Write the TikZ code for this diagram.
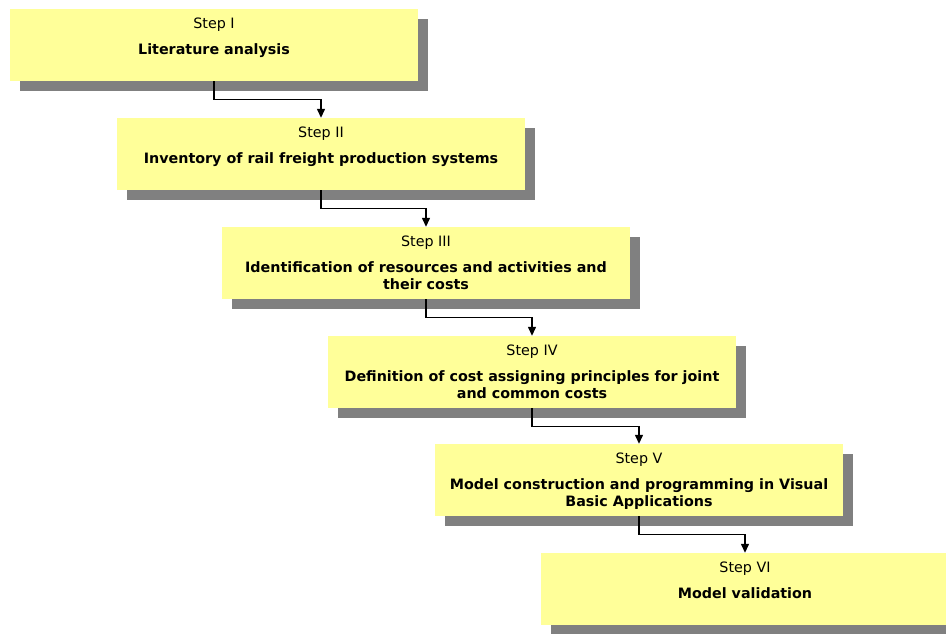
\documentclass[tikz,border=0pt]{standalone}
\usepackage{fontspec}
\setmainfont{DejaVu Sans}
\usetikzlibrary{arrows.meta,shadows}

\definecolor{stepyellow}{HTML}{FFFF99}
\definecolor{shadowgray}{HTML}{808080}

\tikzset{
  stepbox/.style={fill=stepyellow, minimum width=408pt, minimum height=72pt, inner sep=0pt,
    drop shadow={shadow xshift=10pt, shadow yshift=-10pt, fill=shadowgray, opacity=1}},
  steptitle/.style={anchor=north, inner sep=0pt, font=\fontsize{14.3}{17}\selectfont},
  stepbody/.style={anchor=north, inner sep=0pt, align=center, font=\fontsize{14.3}{17}\selectfont\bfseries},
  flow/.style={line width=1.3pt, -{Triangle[length=9pt,width=8pt]}}
}

\begin{document}
\begin{tikzpicture}[x=1pt,y=-1pt]
    \useasboundingbox (0,0) rectangle (946,633);

    % Boxes
    \node[stepbox] (s1) at (214,45) {};
    \node[stepbox] (s2) at (321,154) {};
    \node[stepbox] (s3) at (426,263) {};
    \node[stepbox] (s4) at (532,372) {};
    \node[stepbox] (s5) at (639,480) {};
    \node[stepbox] (s6) at (745,589) {};

    % Titles
    \node[steptitle] (t1) at ([yshift=-9pt]s1.north) {Step I};
    \node[steptitle] (t2) at ([yshift=-9pt]s2.north) {Step II};
    \node[steptitle] (t3) at ([yshift=-9pt]s3.north) {Step III};
    \node[steptitle] (t4) at ([yshift=-9pt]s4.north) {Step IV};
    \node[steptitle] (t5) at ([yshift=-9pt]s5.north) {Step V};
    \node[steptitle] (t6) at ([yshift=-9pt]s6.north) {Step VI};

    % Descriptions
    \node[stepbody] (b1) at ([yshift=-35pt]s1.north) {Literature analysis};
    \node[stepbody] (b2) at ([yshift=-35pt]s2.north) {Inventory of rail freight production systems};
    \node[stepbody] (b3) at ([yshift=-35pt]s3.north) {Identification of resources and activities and\\their costs};
    \node[stepbody] (b4) at ([yshift=-35pt]s4.north) {Definition of cost assigning principles for joint\\and common costs};
    \node[stepbody] (b5) at ([yshift=-35pt]s5.north) {Model construction and programming in Visual\\Basic Applications};
    \node[stepbody] (b6) at ([yshift=-35pt]s6.north) {Model validation};

    % Connectors
    \draw[flow] (s1.south) -- ++(0,18) -| (s2.north);
    \draw[flow] (s2.south) -- ++(0,18) -| (s3.north);
    \draw[flow] (s3.south) -- ++(0,18) -| (s4.north);
    \draw[flow] (s4.south) -- ++(0,18) -| (s5.north);
    \draw[flow] (s5.south) -- ++(0,18) -| (s6.north);
\end{tikzpicture}
\end{document}
